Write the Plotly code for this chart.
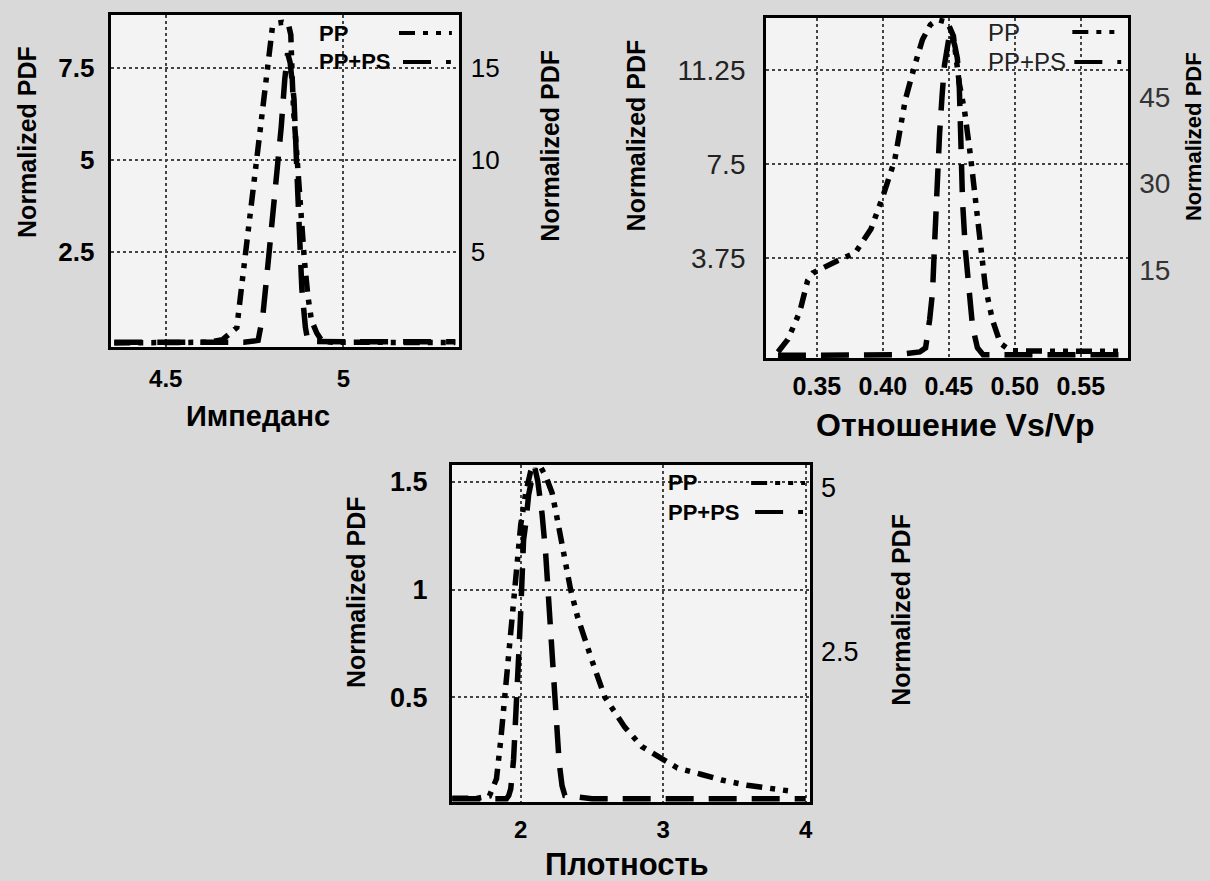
import plotly.graph_objects as go

W, H = 1210, 881

# ---------------- data ----------------
# Panel 1: Impedance
imp_pp_x = [4.355, 4.45, 4.55, 4.62, 4.66, 4.68, 4.70, 4.72, 4.74, 4.76, 4.78, 4.79, 4.80,
            4.815, 4.83, 4.845, 4.852, 4.856, 4.86, 4.87, 4.88, 4.89, 4.90, 4.91, 4.925,
            4.94, 4.97, 5.05, 5.15, 5.25, 5.315]
imp_pp_y = [0.03, 0.03, 0.05, 0.05, 0.12, 0.3, 0.45, 2.1, 3.8, 5.5, 7.2, 8.0, 8.6,
            8.72, 8.74, 8.7, 8.4, 7.2, 6.3, 5.0, 3.5, 2.3, 1.3, 0.65, 0.3,
            0.08, 0.05, 0.05, 0.04, 0.04, 0.04]
imp_pps_x = [4.355, 4.45, 4.55, 4.65, 4.72, 4.76, 4.773, 4.79, 4.81, 4.825, 4.835, 4.843,
             4.85, 4.861, 4.872, 4.883, 4.893, 4.90, 5.0, 5.1, 5.2, 5.315]
imp_pps_y = [0.1, 0.1, 0.1, 0.1, 0.1, 0.2, 1.5, 4.8, 8.7, 11.8, 14.4, 15.8,
             15.3, 13.3, 8.0, 3.0, 0.9, 0.15, 0.12, 0.12, 0.12, 0.12]

# Panel 2: Vs/Vp ratio
vs_pp_x = [0.3205, 0.328, 0.337, 0.343, 0.347, 0.356, 0.366, 0.379, 0.391, 0.400, 0.409,
           0.4135, 0.417, 0.424, 0.430, 0.436, 0.4415, 0.449, 0.4535, 0.458, 0.462,
           0.4665, 0.470, 0.474, 0.4777, 0.483, 0.489, 0.4967, 0.51, 0.53, 0.55, 0.57, 0.583]
vs_pp_y = [0.0, 0.5, 1.6, 2.85, 3.15, 3.4, 3.65, 3.95, 4.9, 6.2, 7.65,
           9.0, 10.05, 11.4, 12.45, 13.05, 13.25, 13.15, 12.6, 10.7, 9.6,
           7.8, 6.05, 4.5, 2.6, 1.3, 0.35, 0.05, 0.03, 0.03, 0.03, 0.03, 0.03]
vs_pps_x = [0.3205, 0.35, 0.38, 0.41, 0.428, 0.4324, 0.4355, 0.4377, 0.439, 0.440, 0.4415,
            0.443, 0.445, 0.4467, 0.451, 0.4545, 0.4565, 0.458, 0.459, 0.4604, 0.4626,
            0.4656, 0.468, 0.4717, 0.476, 0.50, 0.54, 0.583]
vs_pps_y = [0.2, 0.2, 0.2, 0.3, 0.8, 1.5, 6.4, 11.2, 18.4, 24.8, 31.7,
            38.6, 45.5, 50.5, 56.5, 54.0, 51.7, 46.5, 38.6, 27.0, 18.4,
            11.0, 5.2, 1.5, 0.3, 0.3, 0.3, 0.3]

# Panel 3: Density
den_pp_x = [1.52, 1.60, 1.70, 1.78, 1.81, 1.83, 1.86, 1.88, 1.90, 1.93, 1.95, 1.97, 2.0,
            2.035, 2.07, 2.10, 2.14, 2.18, 2.22, 2.25, 2.30, 2.35, 2.40, 2.45, 2.50,
            2.59, 2.73, 2.85, 2.99, 3.10, 3.27, 3.41, 3.59, 3.76, 3.92]
den_pp_y = [0.03, 0.03, 0.03, 0.04, 0.08, 0.12, 0.3, 0.45, 0.6, 0.78, 0.92, 1.1, 1.3,
            1.45, 1.55, 1.6, 1.57, 1.52, 1.45, 1.35, 1.17, 1.0, 0.87, 0.76, 0.67,
            0.5, 0.36, 0.27, 0.21, 0.17, 0.14, 0.114, 0.09, 0.077, 0.06]
den_pps_x = [1.52, 1.70, 1.90, 1.916, 1.93, 1.95, 1.96, 1.975, 1.985, 2.0, 2.007, 2.02,
             2.035, 2.056, 2.08, 2.10, 2.12, 2.15, 2.175, 2.196, 2.217, 2.235, 2.25,
             2.27, 2.29, 2.31, 2.5, 3.0, 3.5, 4.0]
den_pps_y = [0.25, 0.25, 0.25, 0.3, 0.4, 0.85, 1.45, 2.0, 2.4, 3.1, 3.6, 4.2,
             4.45, 4.9, 5.15, 5.3, 5.1, 4.6, 4.0, 3.3, 2.6, 1.9, 1.3,
             0.8, 0.45, 0.3, 0.25, 0.25, 0.25, 0.25]

# tick labels
imp_xticks = [4.5, 5]
imp_xtext = ["4.5", "5"]
imp_yticks = [2.5, 5, 7.5]
imp_ytext = ["2.5", "5", "7.5"]
imp_y2ticks = [5, 10, 15]
imp_y2text = ["5", "10", "15"]
vs_xticks = [0.35, 0.40, 0.45, 0.50, 0.55]
vs_xtext = ["0.35", "0.40", "0.45", "0.50", "0.55"]
vs_yticks = [3.75, 7.5, 11.25]
vs_ytext = ["3.75", "7.5", "11.25"]
vs_y2ticks = [15, 30, 45]
vs_y2text = ["15", "30", "45"]
den_xticks = [2, 3, 4]
den_xtext = ["2", "3", "4"]
den_yticks = [0.5, 1, 1.5]
den_ytext = ["0.5", "1", "1.5"]
den_y2ticks = [2.5, 5]
den_y2text = ["2.5", "5"]

# ---------------- styling ----------------
FONT = "Liberation Sans, Arial, sans-serif"
PP_DASH = "16px,8px,5px,8px,5px,8px"
PPS_DASH = "28px,15px"
LW = 5.5


def fx(p):
    return p / W


def fy(p):
    return 1 - p / H


fig = go.Figure()


def add(x, y, xa, ya, dash, name):
    fig.add_trace(go.Scatter(x=x, y=y, xaxis=xa, yaxis=ya, mode="lines", name=name,
                             showlegend=False,
                             line=dict(color="black", width=LW, dash=dash)))


add(imp_pp_x, imp_pp_y, "x", "y", PP_DASH, "PP")
add(imp_pps_x, imp_pps_y, "x", "y2", PPS_DASH, "PP+PS")
add(vs_pp_x, vs_pp_y, "x2", "y3", PP_DASH, "PP")
add(vs_pps_x, vs_pps_y, "x2", "y4", PPS_DASH, "PP+PS")
add(den_pp_x, den_pp_y, "x3", "y5", PP_DASH, "PP")
add(den_pps_x, den_pps_y, "x3", "y6", PPS_DASH, "PP+PS")

grid = dict(showgrid=True, griddash="dot", gridcolor="#444", gridwidth=1.5)
frame = dict(showline=True, mirror=True, linecolor="black", linewidth=3, zeroline=False,
             ticks="")


def xax(dom, anchor, rng, tv, tt, size, standoff):
    return dict(domain=[fx(dom[0]), fx(dom[1])], anchor=anchor, range=rng,
                tickmode="array", tickvals=tv, ticktext=tt,
                tickfont=dict(family=FONT, size=size, color="black", weight="bold"),
                ticklabelstandoff=standoff, **grid, **frame)


def yax(dom, anchor, rng, tv, tt, size, standoff, bold=True, color="black"):
    return dict(domain=[fy(dom[1]), fy(dom[0])], anchor=anchor, range=rng,
                tickmode="array", tickvals=tv, ticktext=tt,
                tickfont=dict(family=FONT, size=size, color=color,
                              weight="bold" if bold else "normal"),
                ticklabelstandoff=standoff, **grid, **frame)


def y2ax(over, anchor, rng, tv, tt, size, standoff, bold=False, color="black"):
    return dict(overlaying=over, side="right", anchor=anchor, range=rng,
                tickmode="array", tickvals=tv, ticktext=tt, showgrid=False,
                zeroline=False, showline=False, ticks="",
                tickfont=dict(family=FONT, size=size, color=color,
                              weight="bold" if bold else "normal"),
                ticklabelstandoff=standoff)


fig.update_layout(
    width=W, height=H,
    margin=dict(l=0, r=0, t=0, b=0),
    paper_bgcolor="#d9d9d9",
    plot_bgcolor="#f3f3f3",
    font=dict(family=FONT, color="black"),
    xaxis=xax((111, 460), "y", [4.345, 5.325], imp_xticks, imp_xtext, 24, 8),
    yaxis=yax((15, 347), "x", [-0.08, 8.94], imp_yticks, imp_ytext, 26, 8),
    yaxis2=y2ax("y", "x", [-0.16, 17.88], imp_y2ticks, imp_y2text, 26, 11),
    xaxis2=xax((768, 1131), "y3", [0.3115, 0.586], vs_xticks, vs_xtext, 25, 4),
    yaxis3=yax((18, 358), "x2", [-0.24, 13.32], vs_yticks, vs_ytext, 28, 12,
               bold=False, color="#222"),
    yaxis4=y2ax("y3", "x2", [-0.26, 58.7], vs_y2ticks, vs_y2text, 28, 10, color="#333"),
    xaxis3=xax((453, 812), "y5", [1.517, 4.03], den_xticks, den_xtext, 24, 4),
    yaxis5=yax((465, 802), "x3", [0.012, 1.579], den_yticks, den_ytext, 27, 16),
    yaxis6=y2ax("y5", "x3", [0.2, 5.35], den_y2ticks, den_y2text, 27, 10),
)

# axis titles (placed as annotations)
ann = []


def title(text, x, y, size, angle=0, bold=True, color="black"):
    ann.append(dict(text=text, x=fx(x), y=fy(y), xref="paper", yref="paper",
                    showarrow=False, textangle=angle, xanchor="center", yanchor="middle",
                    font=dict(family=FONT, size=size, color=color,
                              weight="bold" if bold else "normal")))


title("Импеданс", 259, 416, 29)
title("Normalized PDF", 27, 142, 25, -90)
title("Normalized PDF", 551, 146, 25, -90)
title("Отношение Vs/Vp", 958, 425, 32)
title("Normalized PDF", 638, 135, 25, -90)
title("Normalized PDF", 1196, 137, 22, -90)
title("Плотность", 629, 864, 31)
title("Normalized PDF", 357, 592, 25, -90)
title("Normalized PDF", 903, 610, 25, -90)

# legends: label text followed by a line sample
shapes = []


def legend(label, xl, y, x0, x1, dash, size, bold=True, color="black"):
    ann.append(dict(text=label, x=fx(xl), y=fy(y), xref="paper", yref="paper",
                    showarrow=False, xanchor="left", yanchor="middle",
                    font=dict(family=FONT, size=size, color=color,
                              weight="bold" if bold else "normal")))
    shapes.append(dict(type="line", xref="paper", yref="paper",
                       x0=fx(x0), x1=fx(x1), y0=fy(y), y1=fy(y),
                       line=dict(color="black", width=4, dash=dash)))


legend("PP", 318, 33, 400, 453, PP_DASH, 22)
legend("PP+PS", 318, 62, 404, 452, PPS_DASH, 22)
legend("PP", 988, 32, 1075, 1125, PP_DASH, 24, bold=False, color="#222")
legend("PP+PS", 988, 62, 1077, 1124, PPS_DASH, 24, bold=False, color="#222")
legend("PP", 668, 483, 753, 807, PP_DASH, 22)
legend("PP+PS", 668, 512, 757, 805, PPS_DASH, 22)

fig.update_layout(annotations=ann, shapes=shapes)

fig.write_html("out.html")
